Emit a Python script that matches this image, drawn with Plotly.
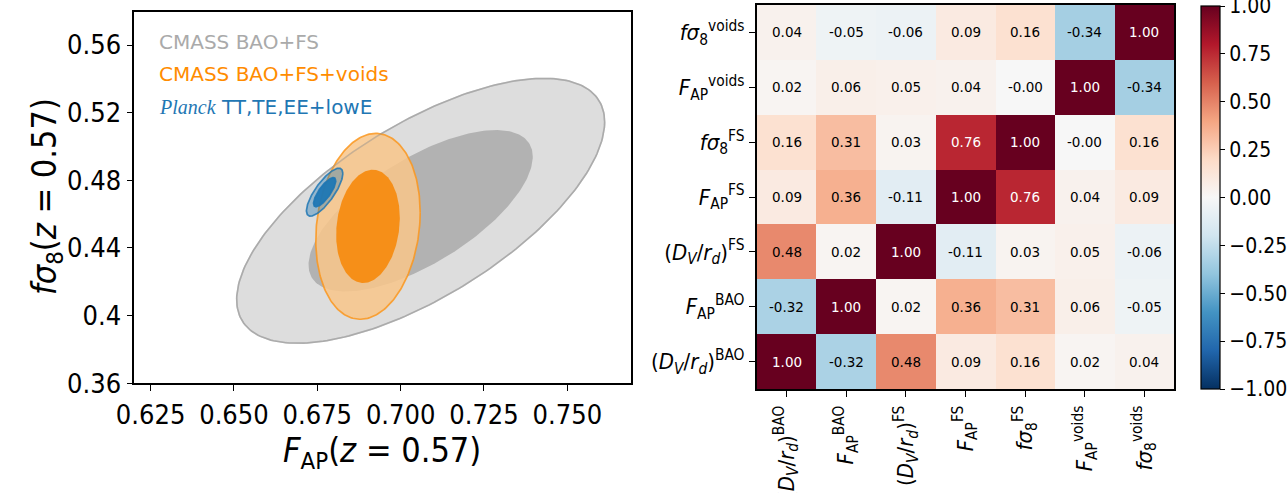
import numpy as np
import plotly.graph_objects as go

# ---------------- data ----------------
# Left panel: Gaussian contour parameters
# (centre x, centre y, sigma x, sigma y, correlation)
cmass_fs = dict(cx=0.7060, cy=0.4620, sx=0.0222, sy=0.0315, rho=0.67)
cmass_voids = dict(cx=0.6902, cy=0.4528, sx=0.0063, sy=0.0221, rho=0.15)
planck = dict(cx=0.6772, cy=0.4730, sx=0.0022, sy=0.0057, rho=0.78)
contour_levels = [1.515, 2.486]  # 68% and 95% for 2 parameters

legend_labels = [
    "CMASS BAO+FS",
    "CMASS BAO+FS+voids",
    "<span style=\"font-family:'Liberation Serif'\"><i>Planck</i></span> TT,TE,EE+lowE",
]

x_ticks = [0.625, 0.650, 0.675, 0.700, 0.725, 0.750]
x_ticktext = ["0.625", "0.650", "0.675", "0.700", "0.725", "0.750"]
y_ticks = [0.36, 0.40, 0.44, 0.48, 0.52, 0.56]
y_ticktext = ["0.36", "0.4", "0.44", "0.48", "0.52", "0.56"]

# Right panel: correlation matrix
params = [
    "(<i>D</i><sub><i>V</i></sub>/<i>r</i><sub><i>d</i></sub>)<sup>BAO</sup>",
    "<i>F</i><sub>AP</sub><sup>BAO</sup>",
    "(<i>D</i><sub><i>V</i></sub>/<i>r</i><sub><i>d</i></sub>)<sup>FS</sup>",
    "<i>F</i><sub>AP</sub><sup>FS</sup>",
    "<i>fσ</i><sub>8</sub><sup>FS</sup>",
    "<i>F</i><sub>AP</sub><sup>voids</sup>",
    "<i>fσ</i><sub>8</sub><sup>voids</sup>",
]
corr = [
    [1.00, -0.32, 0.48, 0.09, 0.16, 0.02, 0.04],
    [-0.32, 1.00, 0.02, 0.36, 0.31, 0.06, -0.05],
    [0.48, 0.02, 1.00, -0.11, 0.03, 0.05, -0.06],
    [0.09, 0.36, -0.11, 1.00, 0.76, 0.04, 0.09],
    [0.16, 0.31, 0.03, 0.76, 1.00, -0.001, 0.16],
    [0.02, 0.06, 0.05, 0.04, -0.001, 1.00, -0.34],
    [0.04, -0.05, -0.06, 0.09, 0.16, -0.34, 1.00],
]
cbar_ticks = [-1.0, -0.75, -0.5, -0.25, 0.0, 0.25, 0.5, 0.75, 1.0]

# ---------------- styles ----------------
W, H = 1288, 493
NARROW = "Liberation Sans Narrow, DejaVu Sans Condensed, Arial Narrow, sans-serif"
SANS = "DejaVu Sans, sans-serif"
rdbu_r = ['rgb(5,48,97)', 'rgb(33,102,172)', 'rgb(67,147,195)', 'rgb(146,197,222)',
          'rgb(209,229,240)', 'rgb(247,247,247)', 'rgb(253,219,199)', 'rgb(244,165,130)',
          'rgb(214,96,77)', 'rgb(178,24,43)', 'rgb(103,0,31)']
colorscale = [[i / (len(rdbu_r) - 1), c] for i, c in enumerate(rdbu_r)]


def px_x(p):
    return p / W


def px_y(p):
    return 1 - p / H


def ellipse(par, k, n=240):
    t = np.linspace(0, 2 * np.pi, n)
    x = par["cx"] + k * par["sx"] * np.cos(t)
    y = par["cy"] + k * par["sy"] * (par["rho"] * np.cos(t) + np.sqrt(1 - par["rho"] ** 2) * np.sin(t))
    return x, y


fig = go.Figure()

styles = [
    # (params, outer fill, outer line, inner fill, inner line)
    (cmass_fs, "rgb(221,221,221)", "rgb(188,188,188)", "rgb(178,178,178)", None),
    (cmass_voids, "rgba(248,198,138,0.85)", "rgba(250,150,30,0.85)", "rgba(246,140,18,0.95)", None),
    (planck, "rgba(31,119,180,0.38)", "rgba(31,119,180,0.85)", "rgba(31,119,180,0.95)", "rgba(31,119,180,0.9)"),
]
for idx, (par, ofill, oline, ifill, iline) in enumerate(styles):
    xo, yo = ellipse(par, contour_levels[1])
    fig.add_trace(go.Scatter(x=xo, y=yo, mode="lines", fill="toself", fillcolor=ofill,
                             line=dict(color=oline, width=1.7), hoverinfo="skip",
                             showlegend=False, xaxis="x", yaxis="y"))
    xi, yi = ellipse(par, contour_levels[0])
    fig.add_trace(go.Scatter(x=xi, y=yi, mode="lines", fill="toself", fillcolor=ifill,
                             line=dict(color=iline if iline else "rgba(0,0,0,0)",
                                       width=1.7 if iline else 0),
                             hoverinfo="skip", showlegend=False, xaxis="x", yaxis="y"))
    if idx == 1:
        # faint CMASS BAO+FS outer contour line seen through the orange region
        xg, yg = ellipse(cmass_fs, contour_levels[1])
        fig.add_trace(go.Scatter(x=xg, y=yg, mode="lines", line=dict(color="rgba(150,150,150,0.45)", width=1.5),
                                 hoverinfo="skip", showlegend=False, xaxis="x", yaxis="y"))

# Heatmap
n = len(params)
fig.add_trace(go.Heatmap(
    z=corr, x=list(range(n)), y=list(range(n)), zmin=-1.0, zmax=1.0,
    colorscale=colorscale, xaxis="x2", yaxis="y2", hoverinfo="skip",
    colorbar=dict(
        x=px_x(1200.7), xanchor="left", xpad=0, ypad=0,
        y=px_y(389), yanchor="bottom", lenmode="fraction", len=(389 - 6) / H,
        thickness=19, outlinecolor="black", outlinewidth=1.2,
        tickvals=cbar_ticks,
        ticktext=[("−" if v < 0 else "") + f"{abs(v):.2f}" for v in cbar_ticks],
        ticks="outside", ticklen=5, tickcolor="black", ticklabeloverflow="allow",
        tickfont=dict(family=NARROW, size=21, color="black"),
    ),
))

annotations = []
for i, row in enumerate(corr):
    for j, v in enumerate(row):
        annotations.append(dict(
            x=j, y=i, xref="x2", yref="y2", text=f"{v:.2f}", showarrow=False,
            font=dict(family=SANS, size=13.5, color="white" if abs(v) > 0.6 else "black"),
        ))

legend_colors = ["rgb(170,170,170)", "rgb(255,140,0)", "rgb(31,119,180)"]
legend_y = [0.5617, 0.5428, 0.5233]
for lab, col, yy in zip(legend_labels, legend_colors, legend_y):
    annotations.append(dict(x=0.6268, y=yy, xref="x", yref="y", text=lab, showarrow=False,
                            xanchor="left", yanchor="middle",
                            font=dict(family=SANS, size=20, color=col)))

# axis titles for left panel
annotations.append(dict(x=px_x(382), y=px_y(452), xref="paper", yref="paper",
                        text="<i>F</i><sub>AP</sub>(<i>z</i> = 0.57)", showarrow=False,
                        xanchor="center", yanchor="middle",
                        font=dict(family=NARROW, size=34, color="black")))
annotations.append(dict(x=px_x(46), y=px_y(197), xref="paper", yref="paper",
                        text="<i>fσ</i><sub>8</sub>(<i>z</i> = 0.57)", showarrow=False,
                        textangle=-90, xanchor="center", yanchor="middle",
                        font=dict(family=NARROW, size=34, color="black")))

axis_common = dict(showline=True, linecolor="black", linewidth=1.6, mirror=True,
                   ticks="outside", ticklen=6, tickcolor="black", tickwidth=1.2,
                   showgrid=False, zeroline=False, automargin=False,
                   ticklabeloverflow="allow")

fig.update_layout(
    width=W, height=H, margin=dict(l=0, r=0, t=0, b=0),
    paper_bgcolor="white", plot_bgcolor="white", showlegend=False,
    xaxis=dict(domain=[px_x(134.3), px_x(631)], anchor="y", range=[0.6201, 0.7691],
               tickvals=x_ticks, ticktext=x_ticktext,
               tickfont=dict(family=NARROW, size=27, color="black"), **axis_common),
    yaxis=dict(domain=[px_y(383.3), px_y(11.7)], anchor="x", range=[0.36, 0.5797],
               tickvals=y_ticks, ticktext=y_ticktext,
               tickfont=dict(family=NARROW, size=27, color="black"), **axis_common),
    xaxis2=dict(domain=[px_x(756.7), px_x(1174.3)], anchor="y2", range=[-0.5, n - 0.5],
                tickvals=list(range(n)), ticktext=params, tickangle=-90,
                tickfont=dict(family=NARROW, size=22, color="black"), **axis_common),
    yaxis2=dict(domain=[px_y(389), px_y(5)], anchor="x2", range=[-0.5, n - 0.5],
                tickvals=list(range(n)), ticktext=params,
                tickfont=dict(family=NARROW, size=22, color="black"), **axis_common),
    annotations=annotations,
)

fig.write_html(
    "out.html",
    config={"displayModeBar": False},
    post_script="document.body.style.margin='0';document.body.style.padding='0';"
                "document.body.style.overflow='hidden';",
)
